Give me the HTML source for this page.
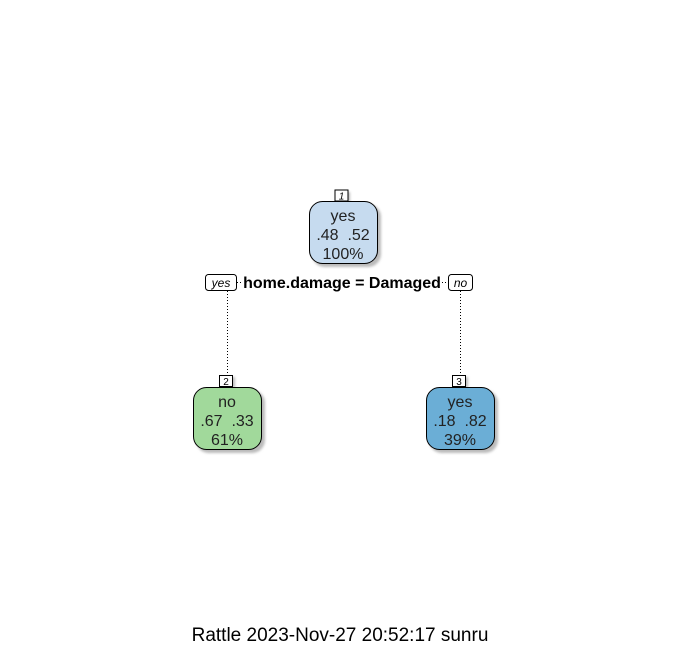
<!DOCTYPE html>
<html><head><meta charset="utf-8"><style>
html,body{margin:0;padding:0;background:#fff;}
svg{display:block;font-family:"Liberation Sans",Arial,sans-serif;}
</style></head><body>
<svg width="686" height="670" viewBox="0 0 686 670">
<defs>
<filter id="sh" x="-20%" y="-20%" width="150%" height="150%"><feGaussianBlur stdDeviation="1.2"/></filter>
</defs>
<line x1="227.5" y1="291" x2="227.5" y2="375" stroke="#000" stroke-dasharray="1,2" stroke-width="1"/>
<line x1="460.5" y1="291" x2="460.5" y2="375" stroke="#000" stroke-dasharray="1,2" stroke-width="1"/>
<line x1="237" y1="282.5" x2="242" y2="282.5" stroke="#000" stroke-dasharray="1,2"/>
<line x1="442" y1="282.5" x2="448" y2="282.5" stroke="#000" stroke-dasharray="1,2"/>

<rect x="336" y="192" width="14" height="11" fill="#bbb" filter="url(#sh)"/>
<rect x="335" y="190" width="13" height="11" fill="#fff" stroke="#000"/>
<text x="341.5" y="199.5" font-size="10" font-style="italic" text-anchor="middle">1</text>
<rect x="312" y="204" width="69" height="63" rx="13" fill="#bbb" filter="url(#sh)"/>
<rect x="309.5" y="201.5" width="68" height="62" rx="13" fill="#c6dbef" stroke="#000"/>
<text x="343" y="221" font-size="16" text-anchor="middle" fill="#222">yes</text>
<text x="343" y="240" font-size="16" text-anchor="middle" fill="#222" xml:space="preserve">.48  .52</text>
<text x="343" y="259" font-size="16" text-anchor="middle" fill="#222">100%</text>

<rect x="205.5" y="274.5" width="31" height="16" rx="3" fill="#fff" stroke="#000"/>
<text x="221" y="287" font-size="12" font-style="italic" text-anchor="middle">yes</text>
<text x="342" y="288" font-size="16" font-weight="bold" text-anchor="middle">home.damage = Damaged</text>
<rect x="448.5" y="274.5" width="24" height="16" rx="3" fill="#fff" stroke="#000"/>
<text x="460.5" y="287" font-size="12" font-style="italic" text-anchor="middle">no</text>

<rect x="221" y="377" width="14" height="11" fill="#bbb" filter="url(#sh)"/>
<rect x="219.5" y="375.5" width="13" height="11" fill="#fff" stroke="#000"/>
<text x="226" y="385" font-size="10" text-anchor="middle">2</text>
<rect x="196" y="390" width="69" height="63" rx="13" fill="#bbb" filter="url(#sh)"/>
<rect x="193.5" y="387.5" width="68" height="62" rx="13" fill="#a1d99b" stroke="#000"/>
<text x="227" y="407" font-size="16" text-anchor="middle" fill="#222">no</text>
<text x="227" y="426" font-size="16" text-anchor="middle" fill="#222" xml:space="preserve">.67  .33</text>
<text x="227" y="445" font-size="16" text-anchor="middle" fill="#222">61%</text>

<rect x="454" y="377" width="14" height="11" fill="#bbb" filter="url(#sh)"/>
<rect x="452.5" y="375.5" width="13" height="11" fill="#fff" stroke="#000"/>
<text x="459" y="385" font-size="10" text-anchor="middle">3</text>
<rect x="429" y="390" width="69" height="63" rx="13" fill="#bbb" filter="url(#sh)"/>
<rect x="426.5" y="387.5" width="68" height="62" rx="13" fill="#6baed6" stroke="#000"/>
<text x="460" y="407" font-size="16" text-anchor="middle" fill="#222">yes</text>
<text x="460" y="426" font-size="16" text-anchor="middle" fill="#222" xml:space="preserve">.18  .82</text>
<text x="460" y="445" font-size="16" text-anchor="middle" fill="#222">39%</text>

<text x="340" y="641" font-size="19" text-anchor="middle">Rattle 2023-Nov-27 20:52:17 sunru</text>
</svg>
</body></html>
